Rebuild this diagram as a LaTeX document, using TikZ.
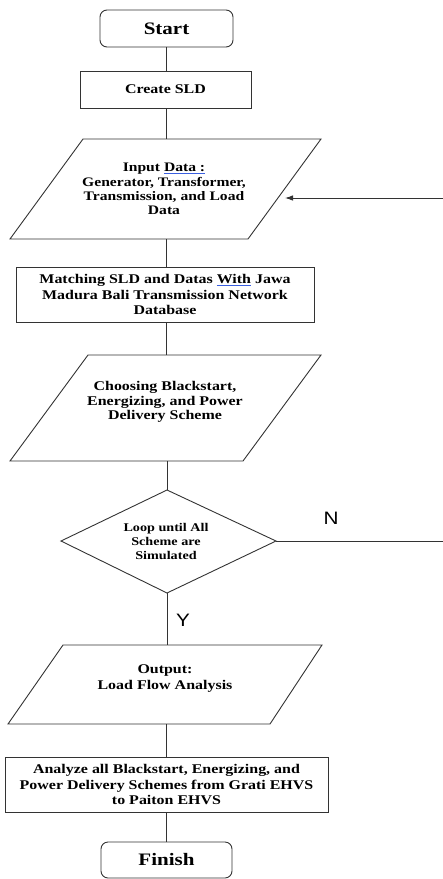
\documentclass[tikz,border=0pt]{standalone}
\usepackage{fontspec}
\usetikzlibrary{arrows.meta}
\newfontfamily\sfc{Liberation Serif}[FakeStretch=1.2]
\newfontfamily\sansc{Liberation Sans}[FakeStretch=1.15]
\definecolor{linec}{HTML}{333333}
\definecolor{spell}{HTML}{3A5FE0}
\newcommand{\spellul}[1]{\setbox0\hbox{#1}\rlap{\textcolor{spell}{\raisebox{-2.2pt}{\rule{\wd0}{0.8pt}}}}\box0\relax}
\begin{document}
\begin{tikzpicture}[x=1pt,y=-1pt,
  line/.style={draw=linec, line width=0.9pt},
  body/.style={font=\sfc\bfseries\fontsize{13.3}{15.5}\selectfont},
  box/.style={line, rectangle, inner sep=0pt, align=center, body},
  term/.style={box, rounded corners=7pt, font=\sfc\bfseries\fontsize{17.5}{20}\selectfont},
  txt/.style={inner sep=0pt, align=center, body},
  lbl/.style={inner sep=0pt, font=\sansc\fontsize{18}{20}\selectfont}]
\useasboundingbox (0,0) rectangle (443,879);

% Start
\node[term, minimum width=133pt, minimum height=37pt] (start) at (166.5,28.5) {Start};
% Create SLD
\node[box, minimum width=171pt, minimum height=37pt] (sld) at (165.5,89.5) {Create SLD};

% Input parallelogram
\coordinate (inTL) at (83,139);
\coordinate (inTR) at (321,139);
\coordinate (inBR) at (248,239);
\coordinate (inBL) at (10,239);
\draw[line] (inTL) -- (inTR) -- (inBR) -- (inBL) -- cycle;
\node[txt, font=\sfc\bfseries\fontsize{13}{14.2}\selectfont] (input) at (164,189) {Input \spellul{Data :}\\Generator, Transformer,\\Transmission, and Load\\Data};
\coordinate (inTop) at (166,139);
\coordinate (inBot) at (166,239);
\coordinate (inArrow) at (285,198);
\coordinate (rtop) at (443,198);

% Matching
\node[box, minimum width=298pt, minimum height=55pt] (match) at (165,294.5) {Matching SLD and Datas \spellul{With} Jawa\\Madura Bali Transmission Network\\Database};

% Choosing parallelogram
\coordinate (chTL) at (88,355);
\coordinate (chTR) at (321,355);
\coordinate (chBR) at (243,461);
\coordinate (chBL) at (10,461);
\draw[line] (chTL) -- (chTR) -- (chBR) -- (chBL) -- cycle;
\node[txt, font=\sfc\bfseries\fontsize{13.3}{14.2}\selectfont] (choose) at (165,402) {Choosing Blackstart,\\Energizing, and Power\\Delivery Scheme};
\coordinate (chTop) at (166,355);
\coordinate (chBot) at (167,461);

% Diamond
\coordinate (dT) at (167,490);
\coordinate (dR) at (276,541);
\coordinate (dB) at (167,593);
\coordinate (dL) at (61,541);
\draw[line] (dT) -- (dR) -- (dB) -- (dL) -- cycle;
\node[txt, font=\sfc\bfseries\fontsize{11.8}{14}\selectfont] (loop) at (166,541) {Loop until All\\Scheme are\\Simulated};
\coordinate (rbot) at (443,541);
\node[lbl] (N) at (331,518) {N};
\node[lbl] (Y) at (183,620) {Y};

% Output parallelogram
\coordinate (ouTL) at (63,645);
\coordinate (ouTR) at (322,645);
\coordinate (ouBR) at (270,724);
\coordinate (ouBL) at (8,724);
\draw[line] (ouTL) -- (ouTR) -- (ouBR) -- (ouBL) -- cycle;
\node[txt] (output) at (165,678.5) {Output:\\Load Flow Analysis};
\coordinate (ouTop) at (167,645);
\coordinate (ouBot) at (166,724);

% Analyze
\node[box, minimum width=323pt, minimum height=55pt] (analyze) at (166.5,784.5) {Analyze all Blackstart, Energizing, and\\Power Delivery Schemes from Grati EHVS\\to Paiton EHVS};

% Finish
\node[term, minimum width=131pt, minimum height=36pt] (finish) at (166.5,860) {Finish};

% Connectors
\draw[line] (start.south -| 166,0) -- (sld.north -| 166,0);
\draw[line] (sld.south -| 166,0) -- (inTop);
\draw[line] (inBot) -- (match.north -| 166,0);
\draw[line] (match.south -| 166,0) -- (chTop);
\draw[line] (chBot) -- (dT);
\draw[line] (dB) -- (ouTop);
\draw[line] (ouBot) -- (analyze.north -| 166,0);
\draw[line] (analyze.south -| 166,0) -- (finish.north -| 166,0);
\draw[line] (dR) -- (rbot);
\draw[line, -{Latex[length=8pt,width=5.5pt]}] (rtop) -- (inArrow);
\end{tikzpicture}
\end{document}
